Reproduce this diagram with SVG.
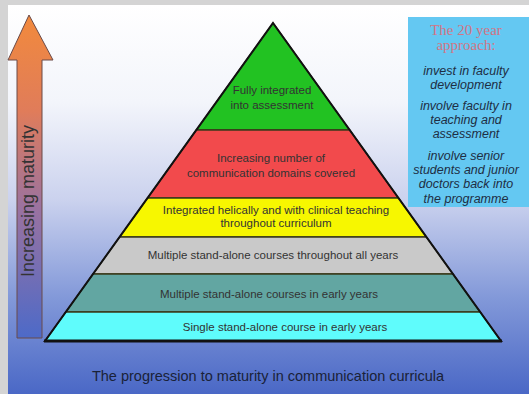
<svg xmlns="http://www.w3.org/2000/svg" width="529" height="394" viewBox="0 0 529 394">
<defs>
<linearGradient id="bg" x1="0" y1="0" x2="0" y2="1">
<stop offset="0" stop-color="#ffffff"/>
<stop offset="0.25" stop-color="#f3f5fb"/>
<stop offset="0.5" stop-color="#cbd2ee"/>
<stop offset="0.75" stop-color="#8399d9"/>
<stop offset="1" stop-color="#4a68c6"/>
</linearGradient>
<linearGradient id="arr" gradientUnits="userSpaceOnUse" x1="0" y1="14" x2="0" y2="338">
<stop offset="0" stop-color="#f28a3c"/>
<stop offset="0.3" stop-color="#e07c5a"/>
<stop offset="0.6" stop-color="#9a72a0"/>
<stop offset="1" stop-color="#4d6ac8"/>
</linearGradient>
</defs>
<style>
.band{stroke:#3a3a1a;stroke-width:1.3}
.pt{font-family:"Liberation Sans",Arial,sans-serif;font-size:11.5px;fill:#333;text-anchor:middle}
.bt{font-family:"Liberation Sans",Arial,sans-serif;font-size:12.5px;font-style:italic;fill:#1e2e44;text-anchor:middle}
.tt{font-family:"Liberation Serif","Times New Roman",serif;font-size:15px;fill:#d27585;text-anchor:middle}
</style>
<rect x="0" y="0" width="529" height="394" fill="#d4d4d4"/>
<rect x="8" y="5" width="521" height="389" fill="url(#bg)"/>
<g id="arrow">
<path d="M29,15 L53,60 L42,60 L42,338 L17,338 L17,60 L8,60 Z" fill="url(#arr)" stroke="#6a4a48" stroke-width="1"/>
<text transform="translate(34,201) rotate(-90)" font-family="'Liberation Sans',Arial,sans-serif" font-size="18" fill="#333" text-anchor="middle">Increasing maturity</text>
</g>
<g id="pyramid">
<g id="level6"><polygon class="band" points="273,23 349.7,130 196.3,130" fill="#22c222"/>
<text class="pt" x="272" y="94">Fully integrated</text><text class="pt" x="272" y="109">into assessment</text></g>
<g id="level5"><polygon class="band" points="196.3,130 349.7,130 398.5,198 147.5,198" fill="#f24a4c"/>
<text class="pt" x="271" y="162">Increasing number of</text><text class="pt" x="271" y="177">communication domains covered</text></g>
<g id="level4"><polygon class="band" points="147.5,198 398.5,198 426.4,237 119.6,237" fill="#f7f700"/>
<text class="pt" x="276" y="214">Integrated helically and with clinical teaching</text><text class="pt" x="276" y="227">throughout curriculum</text></g>
<g id="level3"><polygon class="band" points="119.6,237 426.4,237 453,274 93,274" fill="#c9c9c9"/>
<text class="pt" x="273" y="259">Multiple stand-alone courses throughout all years</text></g>
<g id="level2"><polygon class="band" points="93,274 453,274 480.2,312 65.8,312" fill="#62a6a2"/>
<text class="pt" x="269" y="298">Multiple stand-alone courses in early years</text></g>
<g id="level1"><polygon class="band" points="65.8,312 480.2,312 501,341 45,341" fill="#5ffcfc"/>
<text class="pt" x="285" y="331">Single stand-alone course in early years</text></g>
<polygon points="273,23 501,341 45,341" fill="none" stroke="#111" stroke-width="2" stroke-linejoin="miter"/>
<line x1="44" y1="341" x2="502" y2="341" stroke="#111" stroke-width="3"/>
</g>
<g id="approach">
<rect x="408" y="17" width="121" height="190" fill="#64c8f2"/>
<text class="tt" x="466" y="35">The 20 year</text>
<text class="tt" x="466" y="50">approach:</text>
<text class="bt" x="466" y="75">invest in faculty</text>
<text class="bt" x="466" y="89">development</text>
<text class="bt" x="466" y="110">involve faculty in</text>
<text class="bt" x="466" y="124">teaching and</text>
<text class="bt" x="466" y="138">assessment</text>
<text class="bt" x="466" y="160">involve senior</text>
<text class="bt" x="466" y="174">students and junior</text>
<text class="bt" x="466" y="188">doctors back into</text>
<text class="bt" x="466" y="203">the programme</text>
</g>
<text x="268" y="381" font-family="'Liberation Sans',Arial,sans-serif" font-size="14.5" fill="#1a2238" text-anchor="middle">The progression to maturity in communication curricula</text>
</svg>
